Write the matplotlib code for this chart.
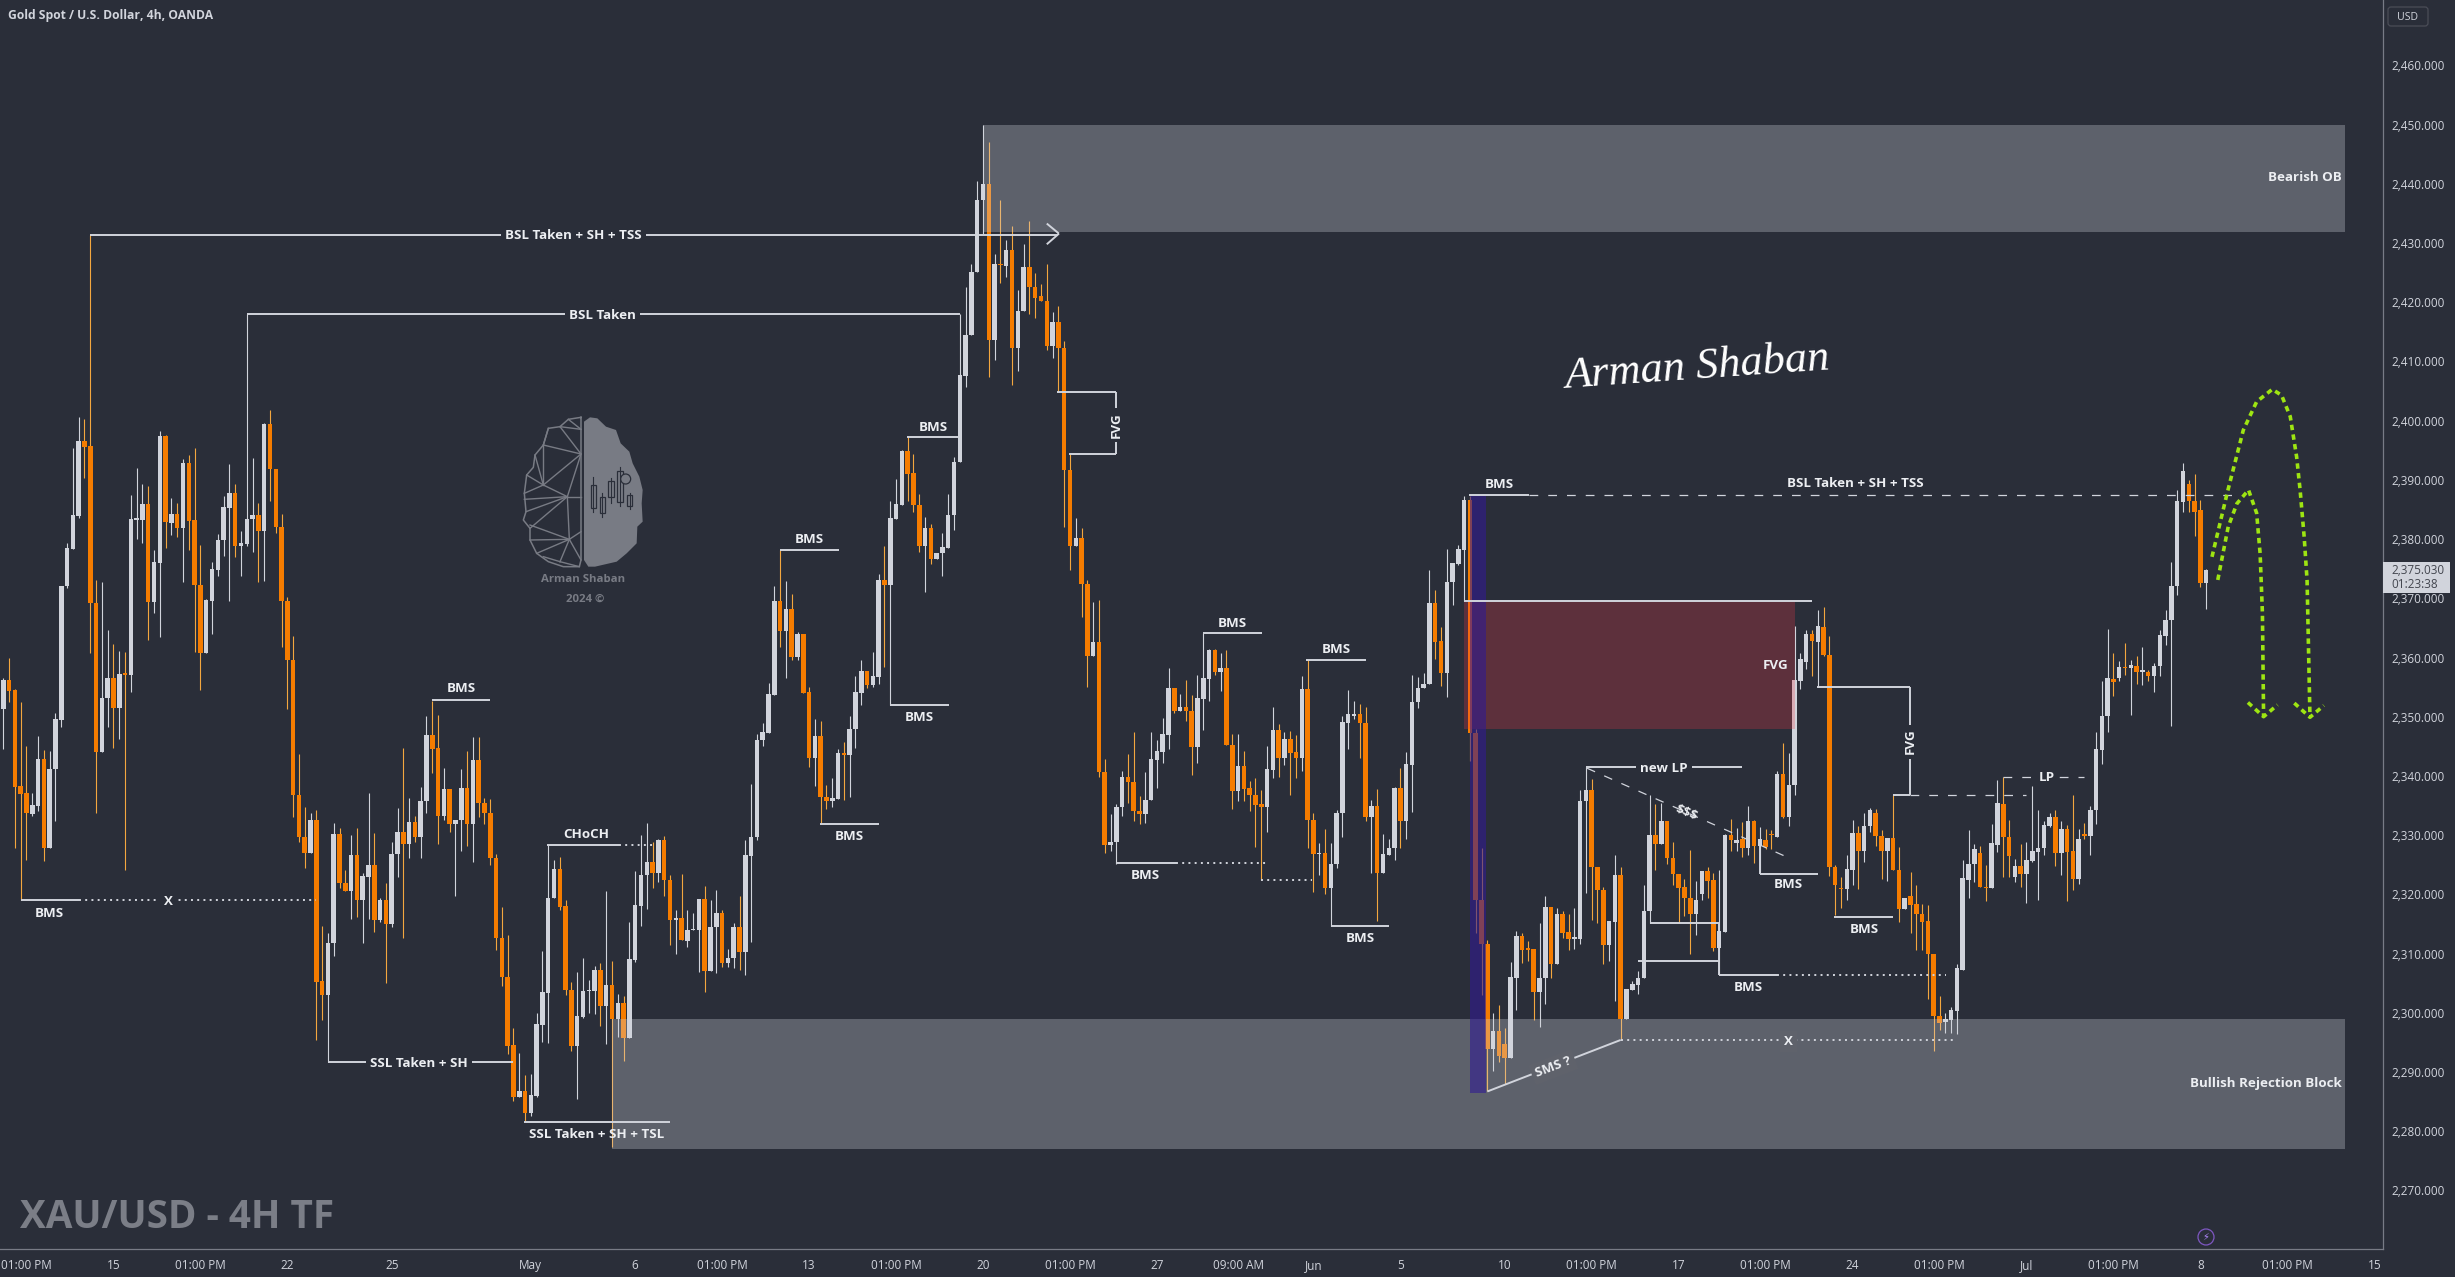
#!/usr/bin/env python3
# XAU/USD 4h chart with hand drawn markup

import matplotlib
matplotlib.use("Agg")
from matplotlib import pyplot as plt
from matplotlib.patches import Rectangle, Polygon, Circle, FancyBboxPatch

# candles as (open, high, low, close)
april_a = [
    (2351.3,2356.6,2344.6,2356.2),(2356.2,2359.9,2352.4,2354.4),(2354.5,2354.6,2327.8,2338.2),(2338.3,2352.4,2319.1,2337.0),
    (2337.1,2345.1,2325.8,2333.7),(2333.6,2337.1,2333.3,2335.1),(2335.0,2346.8,2334.0,2342.9),(2342.9,2344.4,2325.7,2327.8),
    (2327.8,2344.2,2327.8,2341.2),(2341.1,2350.7,2332.3,2349.6),(2349.5,2372.1,2348.2,2372.1),(2372.0,2379.4,2371.8,2378.5),
    (2378.4,2395.4,2378.4,2384.1),(2383.9,2400.6,2383.5,2396.6),(2396.6,2400.3,2390.4,2395.6),(2395.8,2431.4,2360.7,2369.2),
    (2369.2,2373.1,2333.8,2344.0),(2344.0,2372.8,2344.0,2353.1),(2353.1,2364.7,2348.3,2356.5),(2356.5,2362.2,2344.7,2351.4),
    (2351.4,2361.1,2346.3,2357.2),(2357.2,2361.0,2324.1,2357.1),(2357.0,2387.5,2354.1,2383.4),(2383.3,2392.0,2380.0,2383.4),
    (2383.3,2389.3,2379.3,2385.9),(2385.9,2389.0,2363.0,2369.3),(2369.3,2378.2,2367.5,2376.1),(2376.0,2398.2,2363.4,2397.4),
    (2397.4,2397.6,2378.5,2382.9),(2382.8,2386.9,2380.7,2384.2),(2384.2,2386.1,2380.3,2381.8),(2381.8,2393.5,2372.7,2392.8),
    (2392.8,2394.2,2378.2,2383.1),(2383.2,2395.4,2361.0,2372.2),(2372.2,2379.0,2354.5,2360.8),(2360.8,2369.9,2360.8,2369.7),
    (2369.6,2376.2,2364.0,2374.9),(2374.8,2380.9,2373.7,2379.9),(2379.8,2387.3,2377.2,2385.4),(2385.3,2392.7,2369.5,2387.8),
    (2387.8,2389.3,2376.9,2378.8),(2378.8,2381.4,2373.7,2379.3),(2379.2,2418.0,2378.8,2383.4),(2383.4,2393.7,2377.9,2384.0),
    (2384.0,2386.1,2372.8,2381.3),(2381.3,2399.6,2372.9,2399.5),(2399.5,2401.8,2386.5,2391.8),(2391.8,2391.8,2381.0,2382.0),
    (2382.0,2384.2,2361.7,2369.5),(2369.5,2370.3,2351.3,2359.5),(2359.5,2363.7,2333.0,2336.7),(2336.7,2343.7,2328.9,2329.7),
    (2329.7,2334.8,2324.5,2327.0),(2327.0,2333.7,2327.0,2332.5),(2332.6,2334.3,2295.4,2305.2),
]
april_b = [
    (2305.4,2314.6,2298.8,2303.0),(2303.0,2313.5,2291.6,2311.7),(2311.7,2332.0,2309.5,2330.2),(2330.2,2331.2,2321.0,2321.9),
    (2321.9,2324.1,2320.6,2320.6),(2320.6,2330.0,2315.8,2326.7),(2326.7,2331.2,2316.2,2319.0),(2319.0,2323.6,2311.8,2323.1),
    (2323.0,2337.1,2315.8,2325.0),(2325.0,2330.3,2313.6,2315.7),(2315.7,2319.3,2315.4,2319.1),(2319.1,2321.9,2305.0,2315.0),
    (2315.0,2328.9,2314.4,2326.8),(2326.8,2334.6,2323.0,2330.5),(2330.5,2344.7,2312.6,2328.5),(2328.5,2336.2,2326.2,2332.2),
    (2332.2,2333.3,2328.8,2329.6),(2329.6,2338.2,2326.2,2335.7),(2335.7,2350.1,2333.8,2346.9),(2346.9,2352.6,2340.5,2344.6),
    (2344.7,2350.3,2328.5,2333.3),(2333.3,2341.3,2332.6,2337.8),(2337.8,2337.8,2330.6,2331.8),(2331.8,2332.6,2319.8,2332.6),
    (2332.5,2341.2,2327.4,2337.9),(2337.9,2344.2,2328.2,2331.8),(2331.8,2346.5,2325.5,2342.7),(2342.7,2346.5,2333.0,2335.4),
    (2335.4,2336.2,2331.8,2333.8),(2333.8,2336.1,2324.9,2326.2),(2326.2,2326.8,2310.6,2312.7),(2312.7,2317.8,2304.5,2306.0),
    (2306.0,2313.1,2293.0,2294.4),(2294.6,2297.4,2285.1,2285.8),
]
may_a = [
    (2285.8,2293.2,2285.8,2286.8),(2286.8,2289.4,2281.7,2283.0),(2283.0,2289.6,2282.6,2286.1),(2285.9,2299.9,2285.8,2298.1),
    (2298.0,2310.4,2295.1,2303.5),(2303.4,2328.4,2294.9,2319.3),(2319.3,2325.8,2319.3,2324.3),(2324.3,2326.3,2317.3,2317.9),
    (2318.0,2319.0,2303.0,2303.8),(2303.8,2305.2,2293.5,2294.3),(2294.3,2306.9,2285.4,2299.4),(2299.3,2309.3,2299.1,2303.6),
    (2303.6,2305.5,2300.0,2303.8),(2303.7,2307.9,2299.7,2307.2),(2307.2,2308.4,2297.7,2301.2),(2301.2,2320.5,2294.7,2304.7),
    (2304.7,2308.7,2277.3,2299.0),(2299.0,2303.2,2295.9,2301.6),(2301.6,2302.9,2291.8,2295.8),(2295.8,2315.3,2295.8,2309.0),
    (2308.9,2324.0,2308.6,2318.2),(2318.0,2330.1,2314.6,2323.3),(2323.2,2332.0,2317.6,2325.4),(2325.4,2328.8,2321.0,2323.6),
    (2323.6,2329.4,2322.1,2329.1),(2329.1,2329.8,2319.7,2322.5),(2322.5,2323.2,2311.5,2315.6),(2315.6,2317.4,2309.9,2316.0),
    (2316.0,2323.5,2312.2,2312.2),(2312.1,2317.3,2311.1,2314.0),(2313.9,2316.9,2313.9,2314.0),(2313.9,2319.2,2306.9,2319.2),
    (2319.2,2321.4,2303.5,2307.1),(2307.0,2319.0,2307.0,2314.5),(2314.4,2320.8,2306.7,2316.9),(2316.9,2317.4,2307.7,2308.4),
    (2308.4,2310.8,2307.7,2309.3),(2309.2,2315.1,2307.5,2314.4),(2314.4,2319.8,2307.3,2310.3),(2310.3,2329.1,2306.4,2326.7),
    (2326.5,2338.7,2311.9,2329.7),(2329.6,2347.0,2329.1,2346.1),(2346.0,2349.0,2345.1,2347.4),(2347.3,2355.7,2347.3,2353.8),
    (2353.7,2372.1,2353.7,2369.5),(2369.5,2378.2,2361.7,2364.5),(2364.5,2372.9,2356.6,2368.2),(2368.2,2370.8,2359.6,2360.1),
    (2360.1,2364.3,2359.6,2364.0),(2363.9,2363.9,2354.0,2354.0),(2354.1,2355.0,2341.5,2343.1),(2343.1,2349.6,2338.3,2346.8),
    (2346.8,2349.2,2331.9,2336.5),(2336.5,2338.4,2334.4,2335.8),(2335.8,2339.6,2334.8,2336.2),(2336.1,2344.6,2336.1,2343.8),
    (2343.8,2345.7,2335.9,2343.6),
]
may_b = [
    (2343.6,2350.1,2336.5,2348.0),(2348.0,2356.9,2344.7,2354.2),(2354.0,2359.6,2351.9,2357.7),(2357.7,2357.7,2354.8,2355.4),
    (2355.4,2360.9,2355.0,2356.9),(2356.7,2374.1,2355.6,2373.1),(2373.1,2378.8,2358.4,2372.2),(2372.2,2386.5,2351.9,2383.6),
    (2383.4,2390.1,2383.4,2385.9),(2385.8,2395.1,2385.8,2394.9),(2394.9,2397.2,2386.5,2391.0),(2391.1,2394.3,2384.6,2385.8),
    (2385.8,2387.6,2377.9,2378.9),(2378.9,2383.7,2371.0,2381.9),(2381.9,2382.5,2375.8,2376.6),(2376.6,2377.7,2376.6,2377.7),
    (2377.7,2381.1,2373.7,2378.7),(2378.5,2387.6,2378.5,2384.0),(2384.0,2393.8,2381.6,2393.1),(2393.1,2418.0,2393.1,2407.7),
    (2407.5,2422.5,2405.7,2414.5),(2414.4,2426.4,2414.4,2425.2),(2425.2,2440.5,2425.2,2437.2),(2437.2,2450.0,2431.5,2439.9),
    (2439.9,2447.0,2407.3,2413.7),(2413.7,2428.1,2410.2,2426.4),(2426.4,2437.2,2423.2,2426.3),(2426.2,2430.5,2424.3,2428.8),
    (2428.8,2432.9,2406.1,2412.2),(2412.2,2422.1,2408.4,2418.6),(2418.6,2429.8,2418.6,2426.0),(2426.0,2433.8,2418.0,2422.6),
    (2422.6,2424.9,2417.4,2420.8),(2421.0,2423.1,2420.2,2420.2),(2420.3,2426.4,2412.0,2412.7),(2412.7,2418.4,2410.6,2416.6),
    (2416.6,2419.3,2405.0,2412.2),(2412.3,2413.4,2382.1,2391.7),(2391.7,2394.3,2374.8,2378.9),(2378.9,2383.6,2378.9,2380.2),
    (2380.2,2381.9,2366.8,2372.5),(2372.5,2373.1,2355.0,2360.3),(2360.3,2369.3,2360.3,2362.6),(2362.6,2369.7,2339.9,2340.7),
    (2340.7,2342.8,2326.9,2328.4),(2328.4,2333.6,2327.4,2328.9),(2328.8,2335.2,2325.2,2334.8),(2334.8,2340.9,2333.2,2339.9),
    (2339.9,2343.7,2335.4,2339.0),(2339.0,2347.4,2332.3,2334.0),
]
may_c = [
    (2334.1,2336.6,2331.8,2333.6),(2333.6,2340.6,2332.1,2336.0),(2335.9,2347.4,2335.9,2342.9),(2342.7,2346.1,2338.0,2344.2),
    (2344.1,2349.7,2342.1,2347.0),(2346.9,2358.3,2344.5,2354.8),(2354.8,2354.9,2350.7,2351.0),(2351.0,2353.8,2351.0,2351.6),
    (2351.6,2356.2,2349.2,2350.9),(2351.0,2353.7,2340.2,2344.8),(2344.8,2357.0,2342.2,2353.1),(2353.0,2364.1,2347.7,2356.5),
    (2356.4,2361.4,2352.7,2361.3),(2361.3,2361.4,2357.0,2357.6),(2357.6,2360.8,2354.4,2358.2),(2358.2,2361.3,2345.2,2345.2),
    (2345.3,2347.1,2334.4,2337.4),(2337.4,2347.1,2335.8,2341.7),(2341.7,2344.2,2335.8,2337.8),(2337.9,2339.1,2334.0,2336.7),
    (2336.7,2339.7,2328.0,2335.1),(2335.2,2337.6,2322.4,2334.8),(2334.8,2345.0,2330.6,2341.2),(2341.0,2351.6,2339.6,2347.7),
    (2347.7,2348.7,2339.9,2343.1),(2343.1,2347.5,2341.8,2346.2),(2346.2,2347.6,2336.8,2343.9),(2344.0,2346.9,2339.7,2343.1),
    (2343.1,2356.8,2340.8,2354.7),(2354.7,2359.6,2327.8,2332.6),(2332.6,2333.8,2320.4,2326.8),(2326.8,2328.6,2323.3,2326.9),
    (2326.9,2331.0,2320.0,2321.1),(2321.1,2328.6,2314.7,2325.2),(2325.1,2334.2,2324.4,2333.8),(2333.8,2350.2,2329.7,2349.1),
    (2349.0,2354.5,2344.5,2350.4),(2350.2,2352.6,2349.6,2350.3),(2350.4,2352.2,2343.1,2349.0),(2349.0,2351.6,2332.3,2333.1),
    (2333.1,2335.9,2323.6,2334.9),(2334.9,2337.8,2315.5,2323.6),(2323.6,2330.2,2323.6,2326.8),(2326.6,2329.4,2326.6,2327.9),
    (2327.8,2338.2,2325.8,2338.0),(2337.9,2341.4,2327.9,2332.4),(2332.4,2344.0,2329.3,2342.0),(2341.9,2357.1,2333.9,2352.4),
    (2352.4,2356.7,2351.5,2354.9),(2354.8,2357.4,2354.8,2355.6),(2355.5,2374.8,2355.5,2369.2),(2369.2,2371.4,2359.7,2362.7),
    (2362.8,2365.1,2355.2,2357.3),(2357.3,2378.4,2353.4,2372.8),(2372.8,2375.9,2368.8,2375.9),(2375.8,2379.0,2375.6,2378.4),
    (2378.2,2387.3,2369.6,2386.6),
]
june_a = [
    (2386.6,2387.3,2342.5,2347.2),(2347.2,2347.9,2313.4,2319.1),(2319.1,2327.8,2303.0,2311.6),(2311.6,2312.3,2286.8,2293.9),
    (2293.9,2299.9,2290.2,2296.9),(2296.9,2301.3,2291.7,2292.7),(2294.7,2297.4,2288.0,2292.4),(2292.4,2308.6,2292.4,2306.1),
    (2305.9,2313.8,2300.4,2312.9),(2312.9,2313.4,2308.4,2310.6),(2310.8,2312.1,2308.8,2310.6),(2310.8,2310.8,2298.7,2303.5),
    (2303.5,2315.2,2297.6,2305.8),(2305.8,2319.8,2301.5,2317.9),(2317.9,2317.9,2305.8,2308.3),(2308.3,2317.7,2308.3,2316.6),
    (2316.6,2317.2,2312.7,2313.4),(2313.6,2316.6,2310.6,2312.5),(2312.5,2317.7,2310.8,2312.7),(2312.5,2337.6,2311.6,2335.8),
    (2335.7,2341.5,2320.2,2337.6),(2337.6,2339.4,2315.7,2324.6),(2324.6,2324.6,2315.2,2320.7),(2320.7,2321.2,2308.2,2311.5),
    (2311.5,2315.5,2308.8,2315.5),(2315.4,2326.7,2302.0,2323.2),(2323.2,2324.6,2295.4,2299.0),(2299.0,2304.0,2299.0,2304.0),
    (2303.9,2305.4,2303.8,2304.9),(2304.7,2307.0,2303.1,2305.8),(2305.8,2321.6,2305.8,2317.2),(2317.2,2336.7,2315.2,2330.1),
    (2330.1,2335.2,2324.1,2328.5),(2328.5,2335.4,2328.5,2332.4),(2332.4,2332.4,2325.1,2326.2),(2326.2,2328.8,2321.6,2323.5),
    (2323.5,2323.5,2315.3,2321.1),(2321.2,2322.6,2316.3,2319.4),(2319.4,2327.5,2309.9,2316.7),(2316.7,2322.3,2313.2,2319.1),
    (2320.0,2323.9,2319.1,2323.9),(2323.9,2324.6,2319.3,2322.3),(2322.4,2323.6,2310.5,2310.9),(2310.9,2324.1,2306.3,2313.8),
    (2313.6,2330.2,2313.6,2330.1),(2330.1,2332.8,2327.3,2329.2),(2328.7,2331.2,2327.3,2329.2),(2329.4,2332.2,2326.3,2327.8),
    (2327.8,2334.9,2326.7,2332.4),(2332.4,2332.6,2325.3,2328.1),(2328.1,2331.3,2323.7,2329.4),(2329.2,2331.0,2327.6,2328.0),
    (2330.1,2330.8,2327.6,2330.0),(2329.6,2340.8,2329.6,2340.3),(2340.3,2345.6,2332.9,2333.1),(2333.1,2343.8,2331.5,2338.5),
    (2338.5,2365.3,2336.7,2356.2),(2356.0,2360.8,2354.6,2359.8),(2359.2,2364.6,2358.0,2364.0),(2364.0,2364.6,2356.9,2362.8),
    (2362.7,2368.1,2355.0,2365.3),(2365.1,2368.5,2360.3,2360.5),(2360.5,2363.7,2323.1,2324.6),(2324.6,2324.9,2316.5,2321.6),
    (2321.0,2323.0,2317.7,2320.9),(2320.9,2326.6,2319.1,2324.3),(2324.1,2332.6,2321.6,2330.4),(2330.4,2331.5,2320.9,2327.3),
    (2327.3,2333.7,2325.5,2331.5),(2331.5,2334.5,2330.5,2334.2),(2333.7,2334.4,2328.1,2329.9),(2329.9,2330.8,2322.6,2327.3),
    (2327.3,2329.5,2322.3,2329.5),(2329.5,2336.7,2324.1,2324.1),(2324.1,2328.0,2315.3,2317.5),(2317.5,2319.3,2317.5,2319.3),
    (2319.8,2323.7,2313.4,2318.2),(2318.4,2321.6,2310.6,2316.6),(2316.6,2318.4,2310.6,2315.4),(2315.5,2318.2,2302.4,2309.9),
    (2309.9,2309.9,2293.6,2299.5),
]
june_b = [
    (2299.5,2302.8,2297.0,2298.2),(2298.5,2299.9,2296.6,2298.9),(2298.8,2300.9,2296.5,2300.5),(2300.3,2308.2,2296.4,2307.5),
    (2307.3,2325.8,2307.3,2322.7),(2322.4,2330.9,2319.3,2325.2),(2325.1,2328.5,2322.1,2327.6),(2326.9,2328.2,2321.3,2321.3),
    (2321.3,2324.9,2318.9,2321.0),(2321.0,2331.9,2321.0,2328.6),(2328.4,2339.3,2327.2,2335.4),(2335.2,2339.8,2322.9,2329.7),
    (2329.7,2332.5,2322.9,2326.4),(2323.0,2326.0,2322.1,2324.8),(2324.8,2328.5,2321.3,2323.4),(2323.4,2328.9,2318.5,2325.8),
    (2325.7,2338.3,2325.4,2327.3),(2327.2,2334.2,2319.0,2327.9),(2327.8,2332.3,2326.6,2331.7),(2331.5,2333.8,2331.3,2333.1),
    (2333.0,2334.2,2324.8,2327.0),(2327.0,2332.4,2323.3,2331.0),(2331.0,2331.7,2318.9,2327.2),(2327.3,2336.8,2320.7,2322.6),
    (2322.6,2331.1,2321.8,2329.3),(2330.0,2332.1,2329.4,2329.9),(2329.8,2335.0,2326.6,2334.3),(2334.2,2347.4,2331.9,2344.5),
    (2344.4,2356.0,2342.0,2350.2),(2350.1,2364.8,2347.5,2356.5),(2356.3,2360.8,2353.5,2355.9),(2356.5,2359.4,2356.1,2358.4),
    (2358.3,2362.5,2357.0,2358.2),(2358.3,2359.6,2350.3,2358.7),(2358.6,2360.2,2355.6,2357.6),(2357.6,2361.7,2355.4,2357.7),
    (2357.5,2357.9,2356.1,2356.9),(2356.8,2359.0,2354.2,2358.6),(2358.6,2364.6,2356.8,2363.8),(2363.6,2368.0,2362.1,2366.3),
    (2366.3,2376.1,2348.5,2372.1),(2372.0,2388.3,2370.6,2386.4),(2386.3,2392.8,2384.5,2391.5),(2389.3,2390.0,2384.5,2386.5),
    (2386.5,2391.0,2380.6,2384.6),(2384.9,2386.6,2371.9,2372.6),(2372.6,2375.0,2368.2,2374.8),
]

price_ticks = list(range(2270, 2470, 10))
date_ticks = [4, 19, 34, 49, 67, 91, 109, 124, 139, 154, 169, 184, 199, 213, 226, 241,
              259, 274, 289, 304, 319, 334, 349, 364, 379, 394, 409]
date_labels = ["01:00 PM", "15", "01:00 PM", "22", "25", "May", "6", "01:00 PM", "13", "01:00 PM",
               "20", "01:00 PM", "27", "09:00 AM", "Jun", "5", "10", "01:00 PM", "17", "01:00 PM",
               "24", "01:00 PM", "Jul", "01:00 PM", "8", "01:00 PM", "15"]

# zones: x0, x1, low, high
bearish_ob = (169, 404, 2431.9, 2449.9)
bullish_block = (105, 404, 2277.0, 2299.0)
fvg_zone = (252, 309, 2348.0, 2369.4)
sweep_zone = (253, 255.8, 2286.5, 2387.3)

# markup lines: x0, y0, x1, y1
solid_lines = [
    (15, 2431.4, 182, 2431.4), (42, 2418, 165, 2418), (3, 2319, 13, 2319), (73.9, 2352.8, 84, 2352.8),
    (56, 2291.6, 88, 2291.6), (89.9, 2281.5, 115, 2281.5), (93.8, 2328.4, 106.2, 2328.4),
    (155.9, 2397.2, 164.7, 2397.2), (153, 2351.9, 163.1, 2351.9), (140.9, 2331.8, 151.1, 2331.8),
    (133.9, 2378.2, 144.2, 2378.2),
    (181.8, 2404.8, 192, 2404.8), (192, 2404.8, 192, 2394.4), (183.9, 2394.4, 192, 2394.4),
    (191.9, 2325.3, 202.3, 2325.3), (207, 2364.1, 217.1, 2364.1), (224.8, 2359.6, 235, 2359.6),
    (229, 2314.7, 239.1, 2314.7), (252.8, 2387.4, 263.1, 2387.4), (252, 2369.5, 312, 2369.5),
    (273, 2341.5, 300, 2341.5), (303, 2329.4, 303, 2323.5), (303, 2323.5, 313.1, 2323.5),
    (315.8, 2316.2, 326, 2316.2), (284, 2315.2, 296, 2315.2), (282, 2308.8, 296, 2308.8),
    (296, 2315.2, 296, 2306.3), (296, 2306.3, 306, 2306.3), (256, 2286.7, 279, 2295.4),
    (312.9, 2355, 328.9, 2355), (328.9, 2355, 328.9, 2336.8), (326, 2336.8, 328.9, 2336.8),
    (180, 2433.3, 182.1, 2431.6), (182.1, 2431.6, 180, 2429.8),
]
dotted_lines = [
    (13, 2319, 54, 2319), (106.2, 2328.4, 113.3, 2328.4), (202.3, 2325.3, 217.8, 2325.3),
    (217, 2322.4, 225.7, 2322.4), (306, 2306.3, 335.2, 2306.3), (279, 2295.4, 337, 2295.4),
]
dashed_lines = [
    (263.1, 2387.4, 385.5, 2387.4), (273.2, 2341.3, 307.9, 2326.2), (328.9, 2336.8, 349, 2336.8),
    (345, 2339.9, 359, 2339.9),
]

# markup text: x, y, text, rotation, backing colour or None
BG = "#2a2e39"
ZONE = "#5f626b"
chart_labels = [
    (98.3, 2431.4, "BSL Taken + SH + TSS", 0, BG), (103.4, 2418, "BSL Taken", 0, BG),
    (28.4, 2319, "X", 0, BG), (8, 2317, "BMS", 0, None), (79, 2354.9, "BMS", 0, None),
    (71.7, 2291.6, "SSL Taken + SH", 0, BG), (102.4, 2279.7, "SSL Taken + SH + TSL", 0, None),
    (100.5, 2330.3, "CHoCH", 0, None), (139, 2380.1, "BMS", 0, None), (160.5, 2399.1, "BMS", 0, None),
    (158, 2350, "BMS", 0, None), (146, 2329.9, "BMS", 0, None), (192, 2399.5, "FVG", 90, BG),
    (197, 2323.4, "BMS", 0, None), (212, 2366, "BMS", 0, None), (229.9, 2361.6, "BMS", 0, None),
    (234, 2312.8, "BMS", 0, None), (258, 2389.5, "BMS", 0, None), (319.4, 2389.6, "BSL Taken + SH + TSS", 0, None),
    (305.7, 2358.9, "FVG", 0, None), (286.5, 2341.5, "new LP", 0, BG), (290.4, 2334, "$$$", -22, None),
    (308, 2321.8, "BMS", 0, None), (321, 2314.3, "BMS", 0, None), (301, 2304.4, "BMS", 0, None),
    (267.4, 2291, "SMS ?", 21, ZONE), (308, 2295.4, "X", 0, ZONE), (328.9, 2346, "FVG", 90, BG),
    (352.5, 2339.9, "LP", 0, BG),
]

# projected path, read as index / price
path_outer_x = [381, 383.6, 386.4, 388.7, 391.4, 393, 394.5, 395.6, 396.2, 396.9, 397.4, 397.9]
path_outer_y = [2377, 2387.7, 2398.4, 2403.2, 2405.3, 2404.3, 2400.7, 2393.9, 2388.3, 2380.4, 2373.1, 2350]
path_inner_x = [382, 383.8, 385.3, 387.3, 388.7, 389.3, 389.7, 389.9]
path_inner_y = [2373.1, 2382.1, 2386, 2388.3, 2384.4, 2377.6, 2367.5, 2350]
head_inner_x = [387.2, 389.9, 392.3]
head_inner_y = [2352.4, 2350, 2352]
head_outer_x = [395.2, 397.9, 400.3]
head_outer_y = [2352.3, 2349.9, 2351.9]

W, H = 2455, 1277
AXIS_W, AXIS_H = 2383, 1249
LINE = "#d1d4dc"
ORANGE = "#f57c00"
WICK_ORANGE = "#f3a73f"
GREEN = "#9ee512"
TICK_FONT = ["Open Sans", "DejaVu Sans"]
LABEL_SIZE = 9.6

candles = april_a + april_b + may_a + may_b + may_c + june_a + june_b
idx = list(range(len(candles)))
opens, highs, lows, closes = zip(*candles)

fig = plt.figure(figsize=(W / 100, H / 100), dpi=100, facecolor=BG)
ax = fig.add_axes([0, (H - AXIS_H) / H, AXIS_W / W, AXIS_H / H], facecolor=BG)

up = [c >= o for o, c in zip(opens, closes)]
wick_colors = [LINE if u else WICK_ORANGE for u in up]
body_colors = [LINE if u else ORANGE for u in up]
ax.vlines(idx, lows, highs, colors=wick_colors, linewidth=0.8, zorder=2)
ax.bar(idx, [max(abs(c - o), 0.25) for o, c in zip(opens, closes)],
       bottom=[min(o, c) for o, c in zip(opens, closes)],
       width=0.78, color=body_colors, linewidth=0, zorder=2.1)

# zones go over the candles, that's how they look in the screenshot
for zone in (bearish_ob, bullish_block):
    ax.add_patch(Rectangle((zone[0], zone[2]), zone[1] - zone[0], zone[3] - zone[2],
                           facecolor=LINE, alpha=0.31, linewidth=0, zorder=3))
ax.add_patch(Rectangle((fvg_zone[0], fvg_zone[2]), fvg_zone[1] - fvg_zone[0], fvg_zone[3] - fvg_zone[2],
                       facecolor="#f23645", alpha=0.26, linewidth=0, zorder=3))
ax.add_patch(Rectangle((sweep_zone[0], sweep_zone[2]), sweep_zone[1] - sweep_zone[0], sweep_zone[3] - sweep_zone[2],
                       facecolor="#311b92", alpha=0.6, linewidth=0, zorder=3.1))

for x0, y0, x1, y1 in solid_lines:
    ax.plot([x0, x1], [y0, y1], color=LINE, lw=1.4, solid_capstyle="butt", zorder=4)
for x0, y0, x1, y1 in dotted_lines:
    ax.plot([x0, x1], [y0, y1], color=LINE, lw=1.4, linestyle=(0, (1, 2.2)), zorder=4)
for x0, y0, x1, y1 in dashed_lines:
    ax.plot([x0, x1], [y0, y1], color=LINE, lw=0.9, linestyle=(0, (7, 8)), zorder=4)

for x, y, text, rot, back in chart_labels:
    box = dict(facecolor=back, edgecolor="none", pad=3) if back else None
    ax.text(x, y - 0.2, text, color="#eceef2", fontsize=LABEL_SIZE, fontweight="bold", family=TICK_FONT,
            ha="center", va="center", rotation=rot, rotation_mode="anchor", bbox=box, zorder=5)

ax.text(404 - 0.6, 2441.0, "Bearish OB", color="#eceef2", fontsize=LABEL_SIZE, fontweight="bold",
        family=TICK_FONT, ha="right", va="center", zorder=5)
ax.text(404 - 0.6, 2288.0, "Bullish Rejection Block", color="#eceef2", fontsize=LABEL_SIZE, fontweight="bold",
        family=TICK_FONT, ha="right", va="center", zorder=5)

for xs, ys in ((path_outer_x, path_outer_y), (path_inner_x, path_inner_y),
               (head_inner_x, head_inner_y), (head_outer_x, head_outer_y)):
    ax.plot(xs, ys, color=GREEN, lw=2.6, linestyle=(0, (1.5, 1.2)), zorder=6)

ax.set_xlim(-0.57, 410.5)
ax.set_ylim(2260.09, 2471.06)
ax.yaxis.tick_right()
ax.set_yticks(price_ticks)
ax.set_yticklabels([f"{p:,.3f}" for p in price_ticks], family=TICK_FONT, fontsize=8.5, color=LINE)
ax.set_xticks(date_ticks)
ax.set_xticklabels(date_labels, family=TICK_FONT, fontsize=8.5, color=LINE)
ax.tick_params(axis="both", length=0)
ax.tick_params(axis="y", pad=6)
ax.tick_params(axis="x", pad=7)
for side in ("top", "left"):
    ax.spines[side].set_visible(False)
for side in ("right", "bottom"):
    ax.spines[side].set_color("#787b86")
    ax.spines[side].set_linewidth(0.9)

# overlay in screen pixels for the watermarks and price tag
over = fig.add_axes([0, 0, 1, 1], facecolor="none")
over.set_xlim(0, W)
over.set_ylim(H, 0)
over.axis("off")

over.text(8, 16, "Gold Spot / U.S. Dollar, 4h, OANDA", color=LINE, fontsize=8.7, family=TICK_FONT,
          fontweight="bold", ha="left", va="center")
over.text(20, 1218, "XAU/USD - 4H TF", color="#7b7e87", fontsize=27.8, family=TICK_FONT,
          fontweight="bold", ha="left", va="center")
over.text(1697, 368, "Arman Shaban", color="white", fontsize=32, family="Liberation Serif",
          style="italic", ha="center", va="center", rotation=4)

over.add_patch(Rectangle((AXIS_W, 562), 67, 31, facecolor=LINE, linewidth=0, zorder=7))
over.text(2391, 570, "2,375.030", color="#43464f", fontsize=8.5, family=TICK_FONT, va="center", zorder=8)
over.text(2391, 584, "01:23:38", color="#43464f", fontsize=8.5, family=TICK_FONT, va="center", zorder=8)
over.add_patch(FancyBboxPatch((2388, 7), 40, 19, boxstyle="round,pad=0,rounding_size=3",
                              facecolor=BG, edgecolor="#4a4d57", linewidth=0.9))
over.text(2408, 17, "USD", color=LINE, fontsize=7.6, family=TICK_FONT, ha="center", va="center")
over.add_patch(Circle((2206, 1237), 8, facecolor=BG, edgecolor="#7e57c2", linewidth=0.9))
over.text(2206, 1237, "\u26a1", color="#b388ff", fontsize=7, family="DejaVu Sans", ha="center", va="center")


# brain logo, points
def logo(x, y):
    return 480 + x / 3, 380 + y / 3


LOGO = "#787b84"
right_half = [(312, 125), (330, 112), (352, 115), (378, 140), (408, 150), (422, 190), (448, 215), (458, 250),
              (478, 290), (488, 330), (485, 370), (488, 425), (472, 440), (470, 490), (440, 520), (410, 545),
              (345, 560), (325, 560), (312, 540)]
over.add_patch(Polygon([logo(*p) for p in right_half], closed=True, facecolor=LOGO, linewidth=0))
left_outline = [(303, 112), (265, 118), (240, 140), (205, 145), (190, 195), (165, 225), (160, 262), (140, 285),
                (133, 340), (138, 395), (130, 420), (150, 445), (150, 480), (170, 520), (205, 545), (250, 560),
                (298, 560), (303, 540), (303, 112)]
over.plot(*zip(*[logo(*p) for p in left_outline]), color=LOGO, lw=1.1)
mesh = [((240, 140), (303, 148)), ((240, 140), (303, 222)), ((265, 118), (303, 148)), ((205, 145), (190, 195)),
        ((190, 195), (303, 222)), ((190, 195), (190, 315)), ((165, 225), (190, 315)), ((140, 285), (190, 315)),
        ((133, 340), (190, 315)), ((190, 315), (303, 222)), ((190, 315), (262, 350)), ((133, 358), (262, 350)),
        ((138, 395), (262, 350)), ((262, 350), (303, 222)), ((262, 350), (303, 350)), ((262, 350), (268, 478)),
        ((262, 350), (150, 445)), ((150, 435), (268, 478)), ((150, 480), (268, 478)), ((170, 520), (268, 478)),
        ((268, 478), (303, 455)), ((268, 478), (303, 540)), ((268, 478), (240, 545)), ((240, 545), (298, 560)),
        ((190, 530), (240, 545))]
for a, b in mesh:
    over.plot(*zip(logo(*a), logo(*b)), color=LOGO, lw=1.0)
# little candles inside the logo
for cx, top, bot, wt, wb in [(340, 315, 385, 290, 395), (367, 350, 400, 338, 412), (393, 302, 352, 295, 370),
                             (420, 272, 367, 260, 378), (449, 345, 378, 340, 388)]:
    over.plot(*zip(logo(cx, wt), logo(cx, wb)), color=BG, lw=0.8)
    x0, y0 = logo(cx - 8, top)
    x1, y1 = logo(cx + 8, bot)
    over.add_patch(Rectangle((x0, y0), x1 - x0, y1 - y0, facecolor=LOGO, edgecolor=BG, linewidth=0.9))
over.add_patch(Circle(logo(437, 297), 5, facecolor=LOGO, edgecolor=BG, linewidth=0.9))
over.text(*logo(310, 598), "Arman Shaban", color=LOGO, fontsize=8.2, family=TICK_FONT, fontweight="bold",
          ha="center", va="center")
over.text(*logo(315, 658), "2024 \u00a9", color=LOGO, fontsize=8.2, family=TICK_FONT, fontweight="bold",
          ha="center", va="center")

fig.savefig("out.png", dpi=100, facecolor=BG)
